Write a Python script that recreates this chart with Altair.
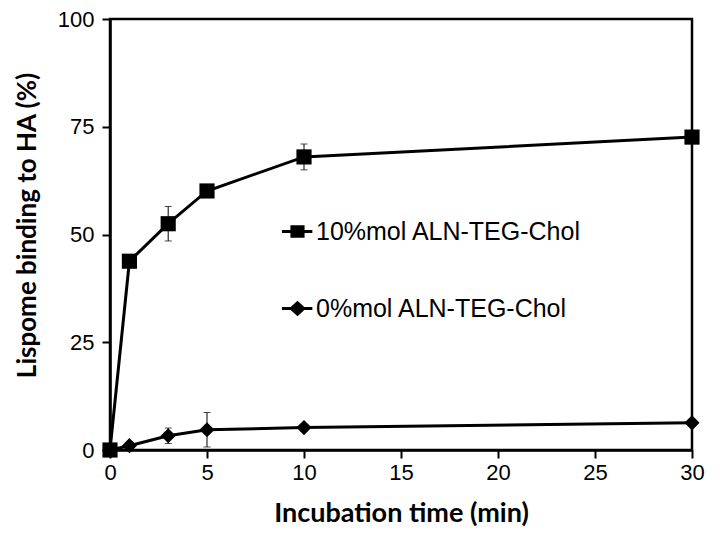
import altair as alt
import pandas as pd

time_min = [0, 1, 3, 5, 10, 30]
series_names = ["10%mol ALN-TEG-Chol", "0%mol ALN-TEG-Chol"]
binding_10 = [0.0, 43.8, 52.5, 60.1, 68.0, 72.6]
err_10 = [0.0, 1.0, 4.0, 1.0, 3.0, 1.0]
binding_0 = [0.0, 1.0, 3.3, 4.7, 5.2, 6.3]
err_0 = [0.0, 0.8, 1.8, 4.0, 0.8, 0.8]

rows = []
for name, vals, errs in [(series_names[0], binding_10, err_10), (series_names[1], binding_0, err_0)]:
    for t, v, e in zip(time_min, vals, errs):
        rows.append({"time": t, "value": v, "lo": v - e, "hi": v + e, "series": name})
df = pd.DataFrame(rows)

# legend glyphs: a short line (thin filled bar) through the marker
legend_square = "M-2.2,-0.2H2.1V0.2H-2.2Z M-1,-0.9H1V0.9H-1Z"
legend_diamond = "M-2.2,-0.2H2.1V0.2H-2.2Z M0,-1.1L1.2,0L0,1.1L-1.2,0Z"

x_enc = alt.X("time:Q", scale=alt.Scale(domain=[0, 30], nice=False),
              axis=alt.Axis(values=[0, 5, 10, 15, 20, 25, 30], title="Incubation time (min)"))
y_enc = alt.Y("value:Q", scale=alt.Scale(domain=[0, 100], nice=False),
              axis=alt.Axis(values=[0, 25, 50, 75, 100], title="Lispome binding to HA (%)",
                            titleY=206))

base = alt.Chart(df)

lines = base.mark_line(color="black", strokeWidth=3, clip=False).encode(
    x=x_enc, y=y_enc, detail="series:N"
)

err_rules = base.mark_rule(color="black", strokeWidth=1).encode(
    x="time:Q", y="lo:Q", y2="hi:Q"
)
caps_hi = base.mark_tick(color="black", thickness=1, size=7, orient="horizontal").encode(
    x="time:Q", y="hi:Q"
)
caps_lo = base.mark_tick(color="black", thickness=1, size=7, orient="horizontal").encode(
    x="time:Q", y="lo:Q"
)

points = base.mark_point(filled=True, size=230, opacity=1, color="black", clip=False).encode(
    x="time:Q",
    y="value:Q",
    shape=alt.Shape(
        "series:N",
        scale=alt.Scale(domain=series_names, range=["square", "diamond"]),
        legend=None,
    ),
)

legend_layer = base.transform_filter("datum.time < 0").mark_point(
    filled=True, size=200, opacity=1, color="black"
).encode(
    x="time:Q",
    y="value:Q",
    shape=alt.Shape(
        "series:N",
        scale=alt.Scale(domain=series_names, range=[legend_square, legend_diamond]),
        legend=alt.Legend(
            title=None, orient="none", legendX=175, legendY=200,
            symbolSize=200, symbolFillColor="black", symbolStrokeWidth=0, symbolOpacity=1,
            labelFontSize=25, labelFont="Liberation Sans", labelColor="black",
            labelOffset=6, rowPadding=51, labelLimit=400,
        ),
    ),
)

chart = alt.layer(lines, err_rules, caps_hi, caps_lo, points, legend_layer).resolve_scale(
    shape="independent"
).properties(
    width=582, height=431,
    autosize=alt.AutoSizeParams(type="none"),
    padding={"left": 102, "top": 11, "right": 14, "bottom": 79},
).configure_view(
    stroke="black", strokeWidth=2.5
).configure_axis(
    grid=False, domainColor="black", domainWidth=2.5, tickColor="black", tickWidth=2,
    tickSize=8, labelFontSize=22, labelFont="Liberation Sans", labelColor="black",
    labelFlush=False,
    titleFont="Lato", titleFontWeight="bold", titleFontSize=27, titleColor="black",
).configure_axisX(
    labelPadding=4, titlePadding=17
).configure_axisY(
    labelPadding=8, titlePadding=17, titleFontSize=26
)

chart.save("out.html", embed_options={"renderer": "svg", "actions": False})
